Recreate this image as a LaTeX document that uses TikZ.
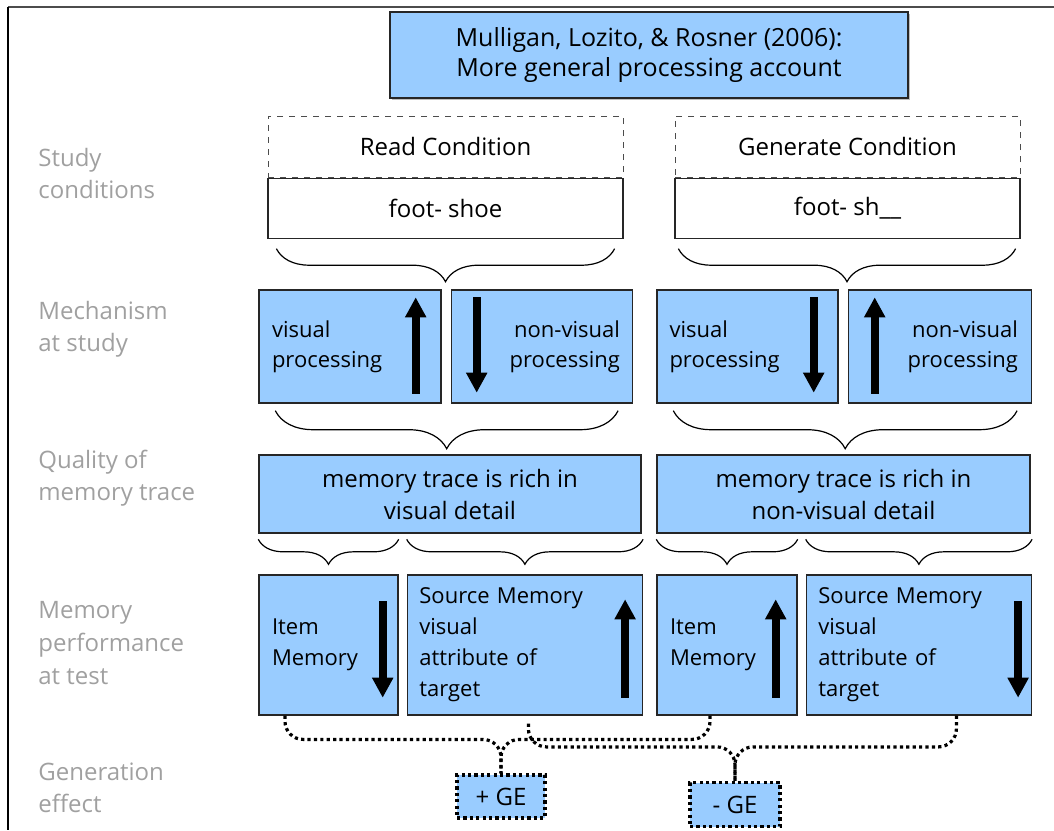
\documentclass[tikz,border=0pt]{standalone}
\usepackage{fontspec}
\setmainfont{Open Sans}
\usetikzlibrary{arrows.meta,positioning,decorations.pathreplacing,shadows}
\definecolor{boxblue}{RGB}{153,204,255}
\definecolor{lblgray}{RGB}{160,160,160}

\begin{document}
\begin{tikzpicture}[x=0.5pt,y=-0.5pt,
  base/.style={draw=black!85,fill=boxblue,line width=0.7pt,inner sep=0pt},
  titlebox/.style={base,minimum width=259pt,minimum height=43pt,align=center,
                   font=\fontsize{12.5}{15}\selectfont,
                   drop shadow={shadow xshift=1pt,shadow yshift=-1pt,opacity=0.5}},
  condhd/.style={draw=black!70,dashed,line width=0.5pt,minimum height=30.5pt,
                 inner sep=0pt,font=\fontsize{12}{15}\selectfont},
  condwd/.style={draw=black!85,line width=0.6pt,minimum height=30pt,
                 inner sep=0pt,font=\fontsize{12}{15}\selectfont},
  mech/.style={base,minimum height=56.5pt,text width=78pt,
               font=\fontsize{11}{15}\selectfont},
  qual/.style={base,minimum height=39pt,align=center,
               font=\fontsize{12}{16}\selectfont},
  memo/.style={base,minimum height=70pt,align=left,
               font=\fontsize{11}{15.5}\selectfont},
  gebox/.style={base,draw=black,line width=1.6pt,dash pattern=on 1.6pt off 1.6pt,
                font=\fontsize{12}{15}\selectfont},
  lbl/.style={anchor=west,align=left,text=lblgray,inner sep=0pt,
              font=\fontsize{12}{16}\selectfont},
  bigarr/.style={line width=4pt,-{Triangle[width=10pt,length=10pt]}},
  brc/.style={decorate,decoration={brace,mirror,amplitude=#1},line width=0.6pt},
  brc/.default=19pt,
  dotlink/.style={line width=1.6pt,dash pattern=on 1.6pt off 1.6pt,rounded corners=9pt}
]
\useasboundingbox (0,0) rectangle (1054,830);
% frame
\draw[black!70,line width=1.2pt] (8,7) -- (1054,7);
\draw[black,line width=1pt] (8,7) -- (8,830);

% row labels
\node[lbl] (lstudy) at (38,173) {Study\\conditions};
\node[lbl] (lmech)  at (38,329) {Mechanism\\at study};
\node[lbl] (lqual)  at (38,478) {Quality of\\memory trace};
\node[lbl,font=\fontsize{12}{16.5}\selectfont] (lmem) at (38,643) {Memory\\performance\\at test};
\node[lbl] (lgen)   at (38,788) {Generation\\effect};

% title
\node[titlebox] (title) at (649,55) {Mulligan, Lozito, \& Rosner (2006):\\More general processing account};

% study conditions
\node[condhd,minimum width=177.5pt] (readhd) at (445.5,146.5) {Read Condition};
\node[condwd,minimum width=177.5pt,below=0pt of readhd] (readwd) {foot- shoe};
\node[condhd,minimum width=172.5pt] (genhd) at (847.5,146.5) {Generate Condition};
\node[condwd,minimum width=172.5pt,below=0pt of genhd] (genwd) {foot- sh\_\_};

% mechanism at study
\node[mech,minimum width=91pt,align=left] (rvis) at (350,346.5) {visual\\processing};
\node[mech,minimum width=90.5pt,align=right,right=4.5pt of rvis] (rnon) {non-visual\\processing};
\node[mech,minimum width=90.5pt,align=left] (gvis) at (747.5,346.5) {visual\\processing};
\node[mech,minimum width=91.5pt,align=right,right=4.5pt of gvis] (gnon) {non-visual\\processing};

\draw[bigarr] ([xshift=-13pt,yshift=5pt]rvis.south east) -- ([xshift=-13pt,yshift=-4pt]rvis.north east);
\draw[bigarr] ([xshift=13pt,yshift=-4pt]rnon.north west) -- ([xshift=13pt,yshift=5.5pt]rnon.south west);
\draw[bigarr] ([xshift=-12.5pt,yshift=-4pt]gvis.north east) -- ([xshift=-12.5pt,yshift=5.5pt]gvis.south east);
\draw[bigarr] ([xshift=13.5pt,yshift=5pt]gnon.south west) -- ([xshift=13.5pt,yshift=-4pt]gnon.north west);

% quality of memory trace
\node[qual,minimum width=191pt] (rqual) at (450,494) {memory trace is rich in\\visual detail};
\node[qual,minimum width=186.5pt] (gqual) at (843.5,494) {memory trace is rich in\\non-visual detail};

% memory performance at test
\node[memo,minimum width=69.5pt,text width=56.5pt] (ritem) at (328.5,645) {Item\\Memory};
\node[memo,minimum width=117.5pt,text width=105.5pt,right=4pt of ritem] (rsrc) {Source Memory\\visual\\attribute of\\target};
\node[memo,minimum width=70pt,text width=57pt] (gitem) at (727,645) {Item\\Memory};
\node[memo,minimum width=112.5pt,text width=100.5pt,right=4pt of gitem] (gsrc) {Source Memory\\visual\\attribute of\\target};

\draw[bigarr] ([xshift=-8pt,yshift=-13.5pt]ritem.north east) -- ([xshift=-8pt,yshift=9pt]ritem.south east);
\draw[bigarr] ([xshift=-9pt,yshift=9pt]rsrc.south east) -- ([xshift=-9pt,yshift=-12.5pt]rsrc.north east);
\draw[bigarr] ([xshift=-11pt,yshift=9pt]gitem.south east) -- ([xshift=-11pt,yshift=-12.5pt]gitem.north east);
\draw[bigarr] ([xshift=-7pt,yshift=-13.5pt]gsrc.north east) -- ([xshift=-7pt,yshift=9pt]gsrc.south east);

% braces
\draw[brc=16.5pt] ([xshift=4.5pt,yshift=-5pt]readwd.south west) -- ([xshift=-4.5pt,yshift=-5pt]readwd.south east);
\draw[brc=16.5pt] ([xshift=2pt,yshift=-5pt]genwd.south west) -- ([xshift=-2.5pt,yshift=-5pt]genwd.south east);
\draw[brc] ([xshift=8.5pt,yshift=-3.5pt]rvis.south west) -- ([xshift=-7.5pt,yshift=-3.5pt]rnon.south east);
\draw[brc] ([xshift=8.5pt,yshift=-3.5pt]gvis.south west) -- ([xshift=-7.5pt,yshift=-3.5pt]gnon.south east);
\draw[brc=12.5pt] ([yshift=17.5pt]ritem.north west) -- ([yshift=17.5pt]ritem.north east);
\draw[brc=12.5pt] ([yshift=17.5pt]rsrc.north west) -- ([yshift=17.5pt]rsrc.north east);
\draw[brc=12.5pt] ([yshift=17.5pt]gitem.north west) -- ([yshift=17.5pt]gitem.north east);
\draw[brc=12.5pt] ([yshift=17.5pt]gsrc.north west) -- ([yshift=17.5pt]gsrc.north east);

% generation effect
\node[gebox,minimum width=44pt,minimum height=21.5pt] (pge) at (501,796.5) {+ GE};
\node[gebox,minimum width=45pt,minimum height=22pt] (mge) at (735,804.5) {- GE};

\draw[dotlink] ([xshift=-21.75pt]ritem.south) |- ([yshift=17pt]pge.north) -- (pge.north);
\draw[dotlink] ([xshift=-8.5pt]gitem.south) |- ([yshift=17pt]pge.north) -- (pge.north);
\draw[dotlink] ([xshift=1.75pt,yshift=-4pt]rsrc.south) |- ([yshift=17pt]mge.north) -- (mge.north);
\draw[dotlink] ([xshift=18.75pt]gsrc.south) |- ([yshift=17pt]mge.north) -- (mge.north);
\end{tikzpicture}
\end{document}
